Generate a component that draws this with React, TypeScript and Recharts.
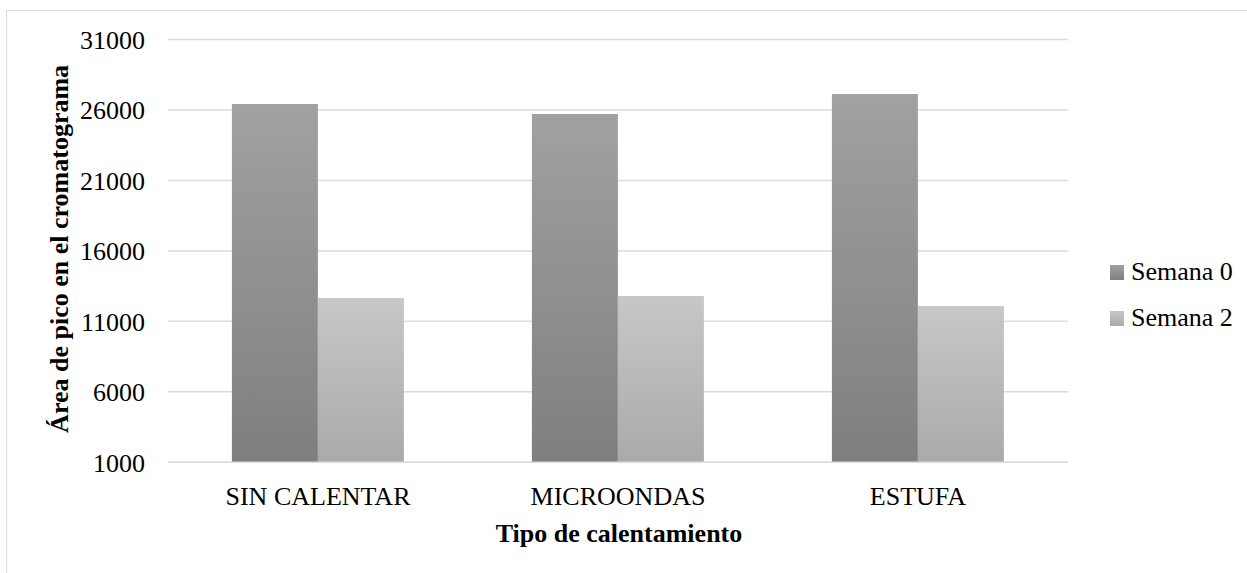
import React from "react";
import { BarChart, Bar, XAxis, YAxis, CartesianGrid, Legend } from "recharts";

const categories = ["SIN CALENTAR", "MICROONDAS", "ESTUFA"];
const semana0 = [26420, 25710, 27130];
const semana2 = [12660, 12800, 12090];
const yTicks = [1000, 6000, 11000, 16000, 21000, 26000, 31000];
const seriesNames = ["Semana 0", "Semana 2"];

const data = categories.map((c, i) => ({ name: c, s0: semana0[i], s2: semana2[i] }));

const FONT = "'Liberation Serif', 'Times New Roman', serif";
const GRID = "#d9dce1";

const grads: Record<string, [string, string]> = {
  s0: ["#a1a1a1", "#7f7f7f"],
  s2: ["#c7c7c7", "#aaaaaa"],
};

const YLabel = (props: any) => {
  const vb = props.viewBox || {};
  const cx = vb.x + 60;
  const cy = vb.y + vb.height / 2 - 2;
  return (
    <text
      x={cx}
      y={cy}
      transform={`rotate(-90, ${cx}, ${cy})`}
      textAnchor="middle"
      dominantBaseline="central"
      fontFamily={FONT}
      fontWeight="bold"
      fontSize={26}
      fill="#000"
    >
      Área de pico en el cromatograma
    </text>
  );
};

const XLabel = (props: any) => {
  const vb = props.viewBox || {};
  const cx = vb.x + vb.width / 2 + 1;
  const y = vb.y + 80;
  return (
    <text x={cx} y={y} textAnchor="middle" fontFamily={FONT} fontWeight="bold" fontSize={26} fill="#000">
      Tipo de calentamiento
    </text>
  );
};

const LegendContent = (props: any) => {
  const payload = props.payload || [];
  return (
    <div style={{ fontFamily: FONT, fontSize: 26, color: "#000" }}>
      {payload.map((entry: any) => {
        const key = entry.dataKey as string;
        const [a, b] = grads[key] || ["#999", "#999"];
        return (
          <div key={key} style={{ display: "flex", alignItems: "center", height: 46, lineHeight: "46px" }}>
            <svg width={14} height={15} style={{ marginRight: 7, display: "block" }}>
              <defs>
                <linearGradient id={`lg-${key}`} x1="0" y1="0" x2="0" y2="1">
                  <stop offset="0%" stopColor={a} />
                  <stop offset="100%" stopColor={b} />
                </linearGradient>
              </defs>
              <rect x={0} y={0} width={14} height={15} fill={`url(#lg-${key})`} />
            </svg>
            <span style={{ whiteSpace: "nowrap" }}>{entry.value}</span>
          </div>
        );
      })}
    </div>
  );
};

export default function App() {
  return (
    <div style={{ position: "absolute", left: 0, top: 0, width: 1247, height: 573, overflow: "hidden", background: "#fff" }}>
      <div
        style={{
          position: "absolute",
          left: 6,
          top: 10,
          width: 1300,
          height: 600,
          border: `1.5px solid ${GRID}`,
          boxSizing: "border-box",
        }}
      />
      <div style={{ position: "absolute", left: 0, top: 0 }}>
        <BarChart
          width={1247}
          height={573}
          data={data}
          margin={{ top: 39.5, right: 179, bottom: 0, left: 0 }}
          barCategoryGap="21.3%"
          barGap={0}
        >
          <defs>
            <linearGradient id="g-s0" x1="0" y1="0" x2="0" y2="1">
              <stop offset="0%" stopColor={grads.s0[0]} />
              <stop offset="100%" stopColor={grads.s0[1]} />
            </linearGradient>
            <linearGradient id="g-s2" x1="0" y1="0" x2="0" y2="1">
              <stop offset="0%" stopColor={grads.s2[0]} />
              <stop offset="100%" stopColor={grads.s2[1]} />
            </linearGradient>
          </defs>
          <CartesianGrid vertical={false} stroke={GRID} strokeWidth={1.5} />
          <XAxis
            dataKey="name"
            height={110.7}
            axisLine={{ stroke: GRID, strokeWidth: 1.5 }}
            tickLine={false}
            tickSize={0}
            tickMargin={24}
            interval={0}
            tick={{ fontFamily: FONT, fontSize: 26, fill: "#000" }}
            label={<XLabel />}
          />
          <YAxis
            width={168}
            domain={[1000, 31000]}
            ticks={yTicks}
            interval={0}
            axisLine={false}
            tickLine={false}
            tickSize={0}
            tickMargin={23}
            allowDataOverflow
            tick={{ fontFamily: FONT, fontSize: 26, fill: "#000" }}
            label={<YLabel />}
          />
          <Legend
            layout="horizontal"
            align="center"
            verticalAlign="middle"
            content={<LegendContent />}
            wrapperStyle={{ left: 1110, top: 249, width: 137, height: 92 }}
          />
          <Bar dataKey="s0" name={seriesNames[0]} fill="url(#g-s0)" isAnimationActive={false} />
          <Bar dataKey="s2" name={seriesNames[1]} fill="url(#g-s2)" isAnimationActive={false} />
        </BarChart>
      </div>
    </div>
  );
}
